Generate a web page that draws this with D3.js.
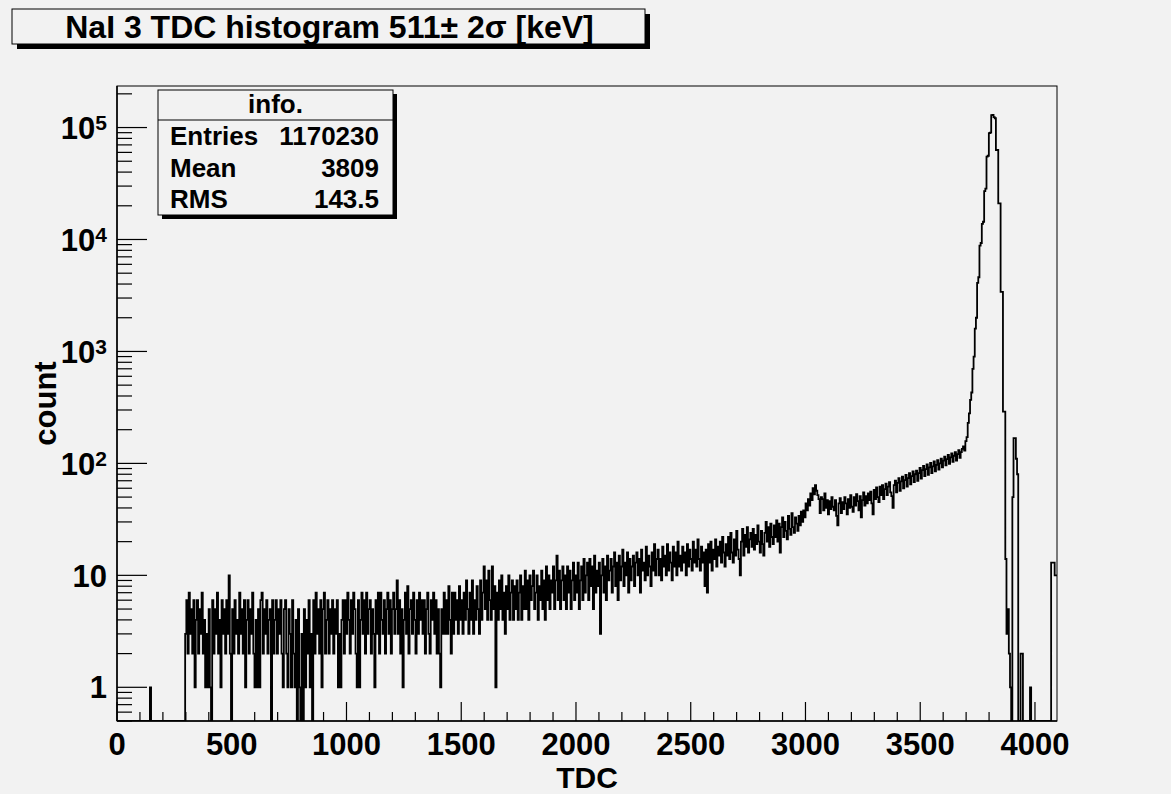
<!DOCTYPE html>
<html>
<head>
<meta charset="utf-8">
<script src="https://cdn.jsdelivr.net/npm/d3@7"></script>
<style>
    body { margin: 0; background: #f2f2f2; }
    svg { display: block; }
    text { font-family: "Liberation Sans", Arial, Helvetica, sans-serif; font-weight: bold; fill: #000; }
</style>
</head>
<body>
<div id="chart"></div>
<script>
/* global d3 */

// histogram: 800 bins of 5.12 TDC channels, 0..4096
var tdcMin = 0, tdcMax = 4096;
var counts = [
    0, 0, 0, 0, 0, 0, 0, 0, 0, 0, 0, 0, 0, 0, 0, 0, 0, 0, 0, 0,
    0, 0, 0, 0, 0, 0, 0, 0, 1, 0, 0, 0, 0, 0, 0, 0, 0, 0, 0, 0,
    0, 0, 0, 0, 0, 0, 0, 0, 0, 0, 0, 0, 0, 0, 0, 0, 0, 0, 3, 6,
    2, 7, 3, 5, 2, 6, 1, 4, 6, 2, 5, 3, 7, 2, 4, 1, 3, 1, 5, 1,
    0, 6, 2, 5, 3, 7, 2, 4, 1, 6, 3, 5, 2, 6, 3, 10, 2, 0, 5, 2,
    6, 3, 4, 2, 7, 3, 5, 2, 6, 1, 4, 6, 2, 5, 3, 7, 2, 1, 4, 1,
    5, 1, 6, 7, 2, 5, 3, 6, 2, 4, 5, 0, 6, 2, 4, 6, 2, 5, 3, 6,
    2, 1, 5, 6, 2, 1, 5, 3, 1, 6, 2, 1, 4, 0, 5, 1, 0, 3, 0, 5,
    1, 4, 2, 6, 1, 3, 0, 6, 2, 7, 3, 5, 2, 6, 1, 5, 7, 2, 4, 6,
    2, 5, 3, 6, 2, 5, 3, 6, 1, 3, 1, 4, 6, 2, 6, 3, 7, 4, 2, 6,
    3, 7, 5, 2, 1, 6, 1, 4, 7, 3, 6, 2, 7, 3, 5, 6, 2, 5, 3, 1,
    6, 3, 7, 2, 7, 4, 3, 6, 2, 5, 7, 3, 6, 2, 5, 7, 3, 5, 9, 3,
    6, 2, 5, 1, 4, 7, 3, 8, 2, 5, 6, 3, 7, 4, 2, 6, 3, 7, 4, 6,
    3, 6, 2, 5, 7, 3, 2, 6, 4, 7, 3, 6, 2, 5, 2, 1, 5, 3, 7, 3,
    6, 3, 8, 4, 2, 7, 3, 7, 4, 6, 3, 8, 4, 6, 3, 7, 4, 9, 5, 3,
    7, 4, 9, 3, 6, 4, 8, 5, 3, 9, 4, 7, 12, 5, 9, 4, 11, 6, 4, 12,
    5, 8, 1, 7, 4, 9, 5, 10, 4, 7, 3, 8, 5, 10, 4, 7, 9, 4, 8, 5,
    9, 4, 7, 10, 4, 8, 5, 11, 5, 9, 4, 10, 6, 8, 11, 5, 7, 10, 4, 8,
    6, 11, 5, 9, 4, 12, 6, 10, 5, 9, 7, 12, 5, 9, 15, 6, 11, 5, 9, 12,
    6, 10, 5, 12, 7, 11, 5, 9, 13, 6, 10, 7, 13, 5, 9, 12, 6, 14, 7, 10,
    13, 6, 14, 8, 12, 5, 15, 7, 11, 8, 13, 3, 10, 14, 7, 12, 6, 15, 9, 11,
    14, 7, 12, 16, 8, 13, 6, 15, 9, 12, 17, 8, 13, 10, 16, 7, 14, 9, 12, 15,
    8, 13, 16, 10, 14, 7, 17, 11, 13, 9, 18, 10, 15, 12, 8, 16, 11, 19, 10, 14,
    17, 10, 14, 9, 18, 12, 15, 10, 19, 11, 16, 13, 9, 18, 12, 16, 10, 20, 12, 15,
    11, 18, 13, 16, 10, 19, 12, 17, 14, 11, 20, 13, 17, 12, 21, 14, 11, 18, 13, 16,
    8, 17, 7, 19, 13, 20, 11, 17, 14, 21, 12, 18, 15, 20, 13, 22, 16, 12, 19, 15,
    22, 14, 24, 16, 13, 21, 15, 25, 17, 14, 10, 20, 26, 15, 23, 18, 27, 16, 21, 24,
    18, 26, 17, 23, 19, 28, 20, 16, 25, 19, 15, 24, 30, 20, 27, 18, 29, 22, 19, 28,
    22, 31, 20, 29, 16, 27, 33, 22, 30, 25, 21, 34, 26, 23, 36, 27, 24, 33, 29, 25,
    34, 28, 37, 30, 38, 33, 44, 38, 48, 42, 54, 47, 60, 53, 64, 57, 52, 48, 36, 50,
    48, 38, 54, 40, 47, 35, 46, 39, 50, 41, 38, 47, 34, 28, 44, 49, 36, 45, 39, 50,
    44, 35, 48, 40, 52, 41, 37, 50, 42, 53, 46, 38, 51, 33, 47, 55, 42, 51, 44, 54,
    47, 56, 44, 35, 58, 48, 61, 50, 45, 62, 52, 64, 48, 59, 66, 52, 62, 68, 55, 51,
    40, 64, 70, 55, 67, 74, 57, 69, 76, 60, 71, 79, 62, 74, 82, 65, 77, 85, 68, 80,
    86, 70, 82, 91, 73, 87, 95, 77, 89, 98, 79, 92, 101, 82, 94, 104, 85, 97, 107, 88,
    100, 110, 92, 106, 115, 96, 109, 119, 99, 113, 123, 103, 117, 126, 106, 121, 131, 112, 126, 135,
    142, 130, 158, 172, 230, 280, 370, 430, 700, 900, 1600, 2000, 4100, 4600, 8800, 9300, 13800, 14400, 27000, 28500,
    55000, 56000, 89000, 90000, 129000, 130000, 124000, 121000, 63000, 63000, 21000, 21000, 3400, 3400, 290, 290, 14, 3, 5, 2,
    1, 0, 50, 168, 168, 110, 80, 0, 0, 2, 2, 0, 0, 0, 0, 0, 0, 1, 0, 0,
    0, 0, 0, 0, 0, 0, 0, 0, 0, 0, 0, 0, 0, 0, 0, 13, 13, 13, 10, 10
];

var xMajorTicks = [0, 500, 1000, 1500, 2000, 2500, 3000, 3500, 4000];
var yDecades = [0, 1, 2, 3, 4, 5];

var titleText = "NaI 3 TDC histogram 511\u00b1 2\u03c3 [keV]";
var xTitle = "TDC";
var yTitle = "count";

var statsHeader = "info.";
var statsNames = ["Entries", "Mean", "RMS"];
var statsValues = ["1170230", "3809", "143.5"];

var width = 1171,
    height = 794,
    frame = { left: 117, right: 1057, top: 86, bottom: 721 },
    yMin = 0.5,
    yMax = 2.35e5;

var svg = d3.select("#chart").append("svg")
    .attr("width", width)
    .attr("height", height);

svg.append("rect")
    .attr("width", width)
    .attr("height", height)
    .attr("fill", "#f2f2f2");

var xScale = d3.scaleLinear()
    .domain([tdcMin, tdcMax])
    .range([frame.left, frame.right]);

var yScale = d3.scaleLog()
    .domain([yMin, yMax])
    .range([frame.bottom, frame.top]);

var binWidth = (tdcMax - tdcMin) / counts.length;

svg.append("clipPath")
    .attr("id", "frameClip")
    .append("rect")
    .attr("x", frame.left)
    .attr("y", frame.top)
    .attr("width", frame.right - frame.left)
    .attr("height", frame.bottom - frame.top);

// step outline of the histogram, empty bins drop to the frame bottom
var stepPoints = [];
counts.forEach(function (c, i) {
    var y = yScale(Math.max(c, yMin));
    stepPoints.push([xScale(tdcMin + i * binWidth), y]);
    stepPoints.push([xScale(tdcMin + (i + 1) * binWidth), y]);
});

svg.append("path")
    .datum(stepPoints)
    .attr("clip-path", "url(#frameClip)")
    .attr("fill", "none")
    .attr("stroke", "#000")
    .attr("stroke-width", 1.8)
    .attr("d", d3.line());

// frame
svg.append("rect")
    .attr("x", frame.left)
    .attr("y", frame.top)
    .attr("width", frame.right - frame.left)
    .attr("height", frame.bottom - frame.top)
    .attr("fill", "none")
    .attr("stroke", "#000")
    .attr("stroke-width", 1);

// x axis ticks (inward)
var xMinorTicks = d3.range(0, tdcMax + 1, 100);
var xAxis = svg.append("g");

xAxis.append("line")
    .attr("x1", frame.left).attr("x2", frame.right)
    .attr("y1", frame.bottom).attr("y2", frame.bottom)
    .attr("stroke", "#000").attr("stroke-width", 1.5);

xAxis.selectAll("line.tick")
    .data(xMinorTicks)
    .enter().append("line")
    .attr("class", "tick")
    .attr("x1", xScale).attr("x2", xScale)
    .attr("y1", frame.bottom)
    .attr("y2", function (d) { return frame.bottom - (d % 500 === 0 ? 19 : 9); })
    .attr("stroke", "#000")
    .attr("stroke-width", 1.2);

xAxis.selectAll("text")
    .data(xMajorTicks)
    .enter().append("text")
    .attr("x", xScale)
    .attr("y", 755)
    .attr("text-anchor", "middle")
    .style("font-size", "31px")
    .text(function (d) { return d; });

svg.append("text")
    .attr("x", (frame.left + frame.right) / 2)
    .attr("y", 788)
    .attr("text-anchor", "middle")
    .style("font-size", "30px")
    .text(xTitle);

// y axis, log ticks
var yAxis = svg.append("g");

yAxis.append("line")
    .attr("x1", frame.left).attr("x2", frame.left)
    .attr("y1", frame.top).attr("y2", frame.bottom)
    .attr("stroke", "#000").attr("stroke-width", 1.5);

var yTicks = [];
[-1].concat(yDecades).forEach(function (e) {
    for (var m = 1; m < 10; m++) {
        var v = m * Math.pow(10, e);
        if (v >= yMin && v <= yMax) yTicks.push({ v: v, major: m === 1 });
    }
});

yAxis.selectAll("line.tick")
    .data(yTicks)
    .enter().append("line")
    .attr("class", "tick")
    .attr("x1", frame.left)
    .attr("x2", function (d) { return frame.left + (d.major ? 30 : 15); })
    .attr("y1", function (d) { return yScale(d.v); })
    .attr("y2", function (d) { return yScale(d.v); })
    .attr("stroke", "#000")
    .attr("stroke-width", 1.2);

var yLabel = yAxis.selectAll("text")
    .data(yDecades)
    .enter().append("text")
    .attr("x", 107)
    .attr("y", function (d) { return yScale(Math.pow(10, d)); })
    .attr("dy", "0.36em")
    .attr("text-anchor", "end")
    .style("font-size", "31px");

yLabel.each(function (d) {
    var t = d3.select(this);
    if (d === 0) { t.text("1"); return; }
    if (d === 1) { t.text("10"); return; }
    t.append("tspan").text("10");
    t.append("tspan")
        .attr("dy", "-0.42em")
        .style("font-size", "21px")
        .text(d);
});

svg.append("text")
    .attr("transform", "translate(56," + ((frame.top + frame.bottom) / 2) + ")rotate(-90)")
    .attr("text-anchor", "middle")
    .style("font-size", "31px")
    .text(yTitle);

// title box with shadow
var titleBox = { x: 12, y: 9, w: 633, h: 35 };
svg.append("rect")
    .attr("x", titleBox.x + 5).attr("y", titleBox.y + 5)
    .attr("width", titleBox.w).attr("height", titleBox.h)
    .attr("fill", "#000");
svg.append("rect")
    .attr("x", titleBox.x).attr("y", titleBox.y)
    .attr("width", titleBox.w).attr("height", titleBox.h)
    .attr("fill", "#f2f2f2")
    .attr("stroke", "#000")
    .attr("stroke-width", 1);
svg.append("text")
    .attr("x", titleBox.x + titleBox.w / 2 + 1)
    .attr("y", 38)
    .attr("text-anchor", "middle")
    .style("font-size", "32px")
    .text(titleText);

// stats box
var statsBox = { x: 158, y: 90, w: 235, h: 125 };
svg.append("rect")
    .attr("x", statsBox.x + 4).attr("y", statsBox.y + 4)
    .attr("width", statsBox.w).attr("height", statsBox.h)
    .attr("fill", "#000");
svg.append("rect")
    .attr("x", statsBox.x).attr("y", statsBox.y)
    .attr("width", statsBox.w).attr("height", statsBox.h)
    .attr("fill", "#f2f2f2")
    .attr("stroke", "#000")
    .attr("stroke-width", 1);
svg.append("line")
    .attr("x1", statsBox.x).attr("x2", statsBox.x + statsBox.w)
    .attr("y1", 120).attr("y2", 120)
    .attr("stroke", "#000");
svg.append("text")
    .attr("x", statsBox.x + statsBox.w / 2)
    .attr("y", 113)
    .attr("text-anchor", "middle")
    .style("font-size", "26px")
    .text(statsHeader);

var statsRows = svg.append("g")
    .selectAll("g")
    .data(statsNames)
    .enter().append("g");

statsRows.append("text")
    .attr("x", 170)
    .attr("y", function (d, i) { return 145 + i * 31.5; })
    .style("font-size", "26px")
    .text(function (d) { return d; });

statsRows.append("text")
    .attr("x", 379)
    .attr("y", function (d, i) { return 145 + i * 31.5; })
    .attr("text-anchor", "end")
    .style("font-size", "26px")
    .text(function (d, i) { return statsValues[i]; });
</script>
</body>
</html>
